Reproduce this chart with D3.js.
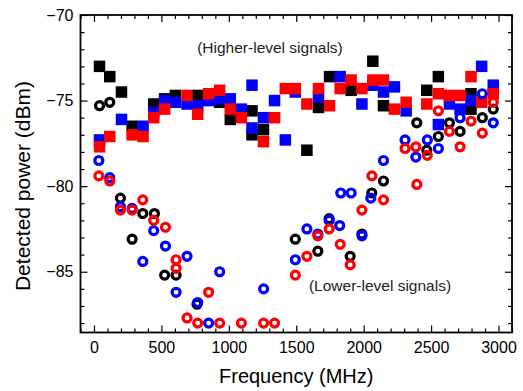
<!DOCTYPE html>
<html><head><meta charset="utf-8">
<script src="https://cdn.jsdelivr.net/npm/d3@7"></script>
<style>body{margin:0;background:#fff}svg{display:block}text{font-family:"Liberation Sans",Arial,sans-serif}</style>
</head><body><svg id="c" width="523" height="391"></svg>
<script>
// Higher-level signals (squares)
const blackSqX=[41,117,204,283,443,524,604,769,932,1011,1172,1172,1257,1579,1665,1747,1907,2068,2147,2468,2554,2796,2796];
const blackSqY=[-73.0,-73.6,-74.5,-76.5,-75.2,-74.9,-74.7,-74.7,-75.1,-76.1,-75.6,-77.0,-76.7,-77.9,-75.4,-73.6,-74.4,-72.7,-75.3,-74.4,-73.6,-74.6,-75.5];
const blueSqX=[41,204,364,443,524,604,690,769,850,932,1011,1093,1172,1172,1257,1339,1419,1493,1665,1826,1987,2068,2147,2228,2315,2554,2636,2715,2796,2875,2961];
const blueSqY=[-77.3,-76.1,-76.5,-75.7,-75.0,-75.1,-75.2,-75.3,-75.0,-74.9,-74.9,-75.5,-74.1,-76.6,-76.0,-75.0,-77.3,-74.5,-74.8,-73.6,-75.2,-74.1,-74.5,-74.2,-75.6,-76.4,-75.2,-75.5,-75.0,-73.0,-74.1];
const redSqX=[41,117,283,364,443,524,690,769,850,932,1011,1093,1257,1339,1419,1493,1579,1665,1747,1826,1907,1987,2068,2147,2228,2315,2468,2554,2636,2715,2796,2875,2961];
const redSqY=[-77.7,-77.1,-77.0,-77.1,-76.0,-75.5,-74.7,-75.8,-74.6,-74.4,-75.5,-76.0,-77.4,-76.0,-74.3,-74.3,-75.2,-74.3,-75.3,-74.3,-73.8,-74.3,-73.8,-73.8,-75.5,-75.1,-75.2,-74.6,-74.7,-74.7,-73.6,-75.1,-74.6];
// Lower-level signals (circles)
const blackCiX=[41,117,196,283,362,448,524,609,764,1493,1660,1744,1900,1987,2060,2147,2394,2468,2554,2636,2715,2880,2961];
const blackCiY=[-75.3,-75.1,-80.7,-83.1,-81.6,-81.6,-85.2,-85.2,-86.9,-83.1,-83.8,-81.9,-84.1,-82.8,-80.4,-79.7,-76.3,-77.9,-77.1,-76.3,-76.8,-76.0,-75.5];
const blueCiX=[36,117,196,283,362,443,530,609,690,769,850,932,1258,1493,1579,1660,1744,1822,1830,1907,1987,2053,2147,2307,2387,2472,2554,2715,2880,2961];
const blueCiY=[-78.5,-79.5,-81.2,-81.3,-84.4,-82.6,-83.5,-86.2,-84.1,-86.8,-88.0,-85.0,-86.0,-84.3,-82.5,-82.8,-82.0,-82.3,-80.4,-80.4,-82.9,-80.7,-78.5,-77.3,-78.3,-77.3,-77.8,-76.0,-74.6,-76.3];
const redCiX=[36,117,196,283,362,443,530,609,609,690,769,850,932,1093,1258,1339,1493,1579,1660,1744,1826,1900,1987,2061,2147,2307,2387,2394,2472,2554,2636,2715,2796,2880,2961];
const redCiY=[-79.4,-79.7,-81.4,-81.4,-80.8,-82.0,-82.4,-84.3,-84.8,-87.7,-88.0,-86.2,-88.0,-88.0,-88.0,-88.0,-85.2,-84.1,-82.9,-82.5,-83.4,-84.6,-81.4,-79.4,-80.8,-77.8,-77.7,-79.9,-78.2,-75.6,-76.8,-77.7,-76.2,-76.9,-75.1];

const xMajor=[0,500,1000,1500,2000,2500,3000];
const yMajor=[-70,-75,-80,-85];
const xTitle="Frequency (MHz)";
const yTitle="Detected power (dBm)";
const noteHigh="(Higher-level signals)";
const noteLow="(Lower-level signals)";

const svg=d3.select("#c");
const L=80.5,R=512,T=15,B=332.5;
const x=d3.scaleLinear().domain([-100,3100]).range([L,R]);
const y=d3.scaleLinear().domain([-88.55,-70]).range([B,T]);
const xMinor=d3.range(-100,3101,100).filter(v=>v%500!==0);
const yMinor=d3.range(-88,-69,1).filter(v=>v%5!==0);

function style(g){g.select(".domain").remove();g.selectAll("line").attr("stroke","#000").attr("stroke-width",1.2);}
const fs=16;
// bottom
svg.append("g").attr("transform",`translate(0,${B})`).call(d3.axisBottom(x).tickValues(xMajor).tickSize(-7).tickPadding(9).tickFormat(d3.format("d"))).call(style)
  .selectAll("text").attr("font-size",fs).attr("fill","#000");
svg.append("g").attr("transform",`translate(0,${B})`).call(d3.axisBottom(x).tickValues(xMinor).tickSize(-4).tickFormat("")).call(style);
// top
svg.append("g").attr("transform",`translate(0,${T})`).call(d3.axisTop(x).tickValues(xMajor).tickSize(-7).tickFormat("")).call(style);
svg.append("g").attr("transform",`translate(0,${T})`).call(d3.axisTop(x).tickValues(xMinor).tickSize(-4).tickFormat("")).call(style);
// left
svg.append("g").attr("transform",`translate(${L},0)`).call(d3.axisLeft(y).tickValues(yMajor).tickSize(-7).tickPadding(7).tickFormat(d3.format("d"))).call(style)
  .selectAll("text").attr("font-size",fs).attr("fill","#000");
svg.append("g").attr("transform",`translate(${L},0)`).call(d3.axisLeft(y).tickValues(yMinor).tickSize(-4).tickFormat("")).call(style);
// right
svg.append("g").attr("transform",`translate(${R},0)`).call(d3.axisRight(y).tickValues(yMajor).tickSize(-7).tickFormat("")).call(style);
svg.append("g").attr("transform",`translate(${R},0)`).call(d3.axisRight(y).tickValues(yMinor).tickSize(-4).tickFormat("")).call(style);

svg.append("rect").attr("x",L).attr("y",T).attr("width",R-L).attr("height",B-T)
  .attr("fill","none").attr("stroke","#000").attr("stroke-width",1.8);

const S=11.5;
function squares(xs,ys,c){
  svg.append("g").selectAll("rect").data(xs.map((v,i)=>[v,ys[i]])).join("rect")
    .attr("x",d=>x(d[0])-S/2).attr("y",d=>y(d[1])-S/2).attr("width",S).attr("height",S).attr("fill",c);
}
function circles(xs,ys,c){
  svg.append("g").selectAll("circle").data(xs.map((v,i)=>[v,ys[i]])).join("circle")
    .attr("cx",d=>x(d[0])).attr("cy",d=>y(d[1])).attr("r",4.0).attr("fill","none").attr("stroke",c).attr("stroke-width",3.2);
}
squares(blackSqX,blackSqY,"#000");
squares(blueSqX,blueSqY,"#0000ff");
squares(redSqX,redSqY,"#ff0000");
circles(blackCiX,blackCiY,"#000");
circles(blueCiX,blueCiY,"#0000ff");
circles(redCiX,redCiY,"#ff0000");

svg.append("text").attr("x",270).attr("y",53).attr("text-anchor","middle").attr("font-size",15.5).attr("fill","#222").text(noteHigh);
svg.append("text").attr("x",380).attr("y",291).attr("text-anchor","middle").attr("font-size",15.5).attr("fill","#222").text(noteLow);
svg.append("text").attr("x",(L+R)/2).attr("y",383).attr("text-anchor","middle").attr("font-size",20).attr("fill","#000").text(xTitle);
svg.append("text").attr("transform","translate(29.5,186) rotate(-90)").attr("text-anchor","middle").attr("font-size",21).attr("fill","#000").text(yTitle);
</script></body></html>
